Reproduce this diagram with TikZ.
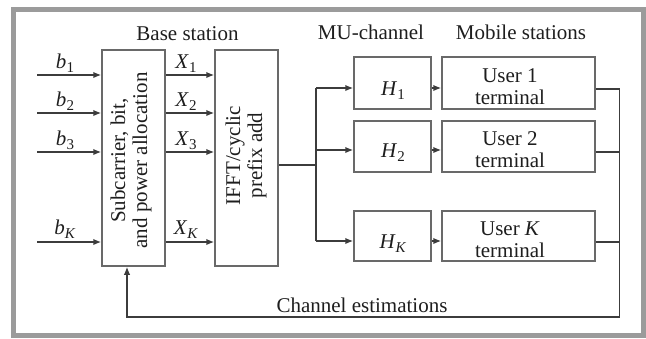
\documentclass[tikz,border=0pt]{standalone}
\usepackage{fontspec}
\setmainfont{Liberation Serif}
\usetikzlibrary{arrows.meta,calc}
\definecolor{framegray}{RGB}{155,155,155}
\definecolor{boxgray}{RGB}{105,105,105}
\definecolor{linegray}{RGB}{60,60,60}
\definecolor{txt}{RGB}{30,30,30}
\newcommand\subx[2]{\textit{#1}\raisebox{-0.45ex}{\fontsize{15}{15}\selectfont #2}}
\begin{document}
\begin{tikzpicture}[x=1pt,y=-1pt,
  every node/.style={text=txt},
  blk/.style={draw=boxgray,line width=1.5pt,fill=white,inner sep=0pt},
  conn/.style={draw=linegray,line width=1.5pt},
  arr/.style={conn,-{Latex[length=8pt,width=6.5pt]}},
  lab/.style={font=\fontsize{21}{22}\selectfont,inner sep=0pt},
  sublab/.style={font=\fontsize{21}{22}\selectfont,inner sep=0pt,anchor=base}]
\useasboundingbox (0,0) rectangle (646,338);
\draw[framegray,line width=5pt] (13.5,9.5) rectangle (643.5,335.5);

% headers
\node[sublab] (hb) at (187.5,40) {Base station};
\node[sublab] (hm) at (371,39) {MU-channel};
\node[sublab] (hs) at (521,39) {Mobile stations};

% blocks
\node[blk,minimum width=63,minimum height=216] (A) at (133.5,158) {};
\node[lab,rotate=90,align=center] (At) at (131,160.5) {Subcarrier, bit,\\and power allocation};
\node[blk,minimum width=63,minimum height=216] (B) at (246.5,158) {};
\node[lab,rotate=90,align=center] (Bt) at (246,155.5) {IFFT/cyclic\\prefix add};

\node[blk,minimum width=77,minimum height=52] (H1) at (392.5,83) {};
\node[blk,minimum width=77,minimum height=51] (H2) at (392.5,146.5) {};
\node[blk,minimum width=77,minimum height=50] (HK) at (392.5,236) {};
\node[sublab] (H1t) at (393,95) {\subx{H}{1}};
\node[sublab] (H2t) at (393,157) {\subx{H}{2}};
\node[sublab] (HKt) at (393,248) {\subx{H}{\textit{K}}};

\node[blk,minimum width=153,minimum height=52] (U1) at (518.5,83) {};
\node[blk,minimum width=153,minimum height=51] (U2) at (518.5,146.5) {};
\node[blk,minimum width=153,minimum height=50] (UK) at (518.5,236) {};
\node[lab,align=center] (U1t) at (510,87) {User 1\\terminal};
\node[lab,align=center] (U2t) at (510,150) {User 2\\terminal};
\node[lab,align=center] (UKt) at (510,240) {User \textit{K}\\terminal};

% inputs
\coordinate (i1) at (37,75);
\coordinate (i2) at (37,113);
\coordinate (i3) at (37,152);
\coordinate (iK) at (37,242);
\foreach \c in {i1,i2,i3,iK}{
  \draw[arr] (\c) -- (\c -| A.west);
  \draw[arr] (\c -| A.east) -- (\c -| B.west);
}
\node[sublab] (b1) at (65,68) {\subx{b}{1}};
\node[sublab] (b2) at (65,106) {\subx{b}{2}};
\node[sublab] (b3) at (65,145) {\subx{b}{3}};
\node[sublab] (bK) at (65,234) {\subx{b}{\textit{K}}};
\node[sublab] (x1) at (186,68) {\subx{X}{1}};
\node[sublab] (x2) at (186,106) {\subx{X}{2}};
\node[sublab] (x3) at (186,145) {\subx{X}{3}};
\node[sublab] (xK) at (186,234) {\subx{X}{\textit{K}}};

% IFFT to channels
\coordinate (s) at (316,165);
\coordinate (h1) at (316,88);
\coordinate (h2) at (316,150);
\coordinate (hK) at (316,241);
\draw[conn] (s -| B.east) -- (s);
\draw[conn] (h1) -- (hK);
\draw[arr] (h1) -- (h1 -| H1.west);
\draw[arr] (h2) -- (h2 -| H2.west);
\draw[arr] (hK) -- (hK -| HK.west);
\draw[arr] (h1 -| H1.east) -- (h1 -| U1.west);
\draw[arr] (h2 -| H2.east) -- (h2 -| U2.west);
\draw[arr] (hK -| HK.east) -- (hK -| UK.west);

% feedback bus
\coordinate (r1) at (619.5,89);
\coordinate (r2) at (619.5,152);
\coordinate (rK) at (619.5,242);
\coordinate (rb) at (619.5,317);
\coordinate (lb) at (127,317);
\draw[conn] (r1 -| U1.east) -- (r1);
\draw[conn] (r2 -| U2.east) -- (r2);
\draw[conn] (rK -| UK.east) -- (rK);
\draw[arr,line join=miter] (r1) -- (rb) -- (lb) -- (lb |- A.south);
\node[sublab] (ce) at (362,312) {Channel estimations};
\end{tikzpicture}
\end{document}
